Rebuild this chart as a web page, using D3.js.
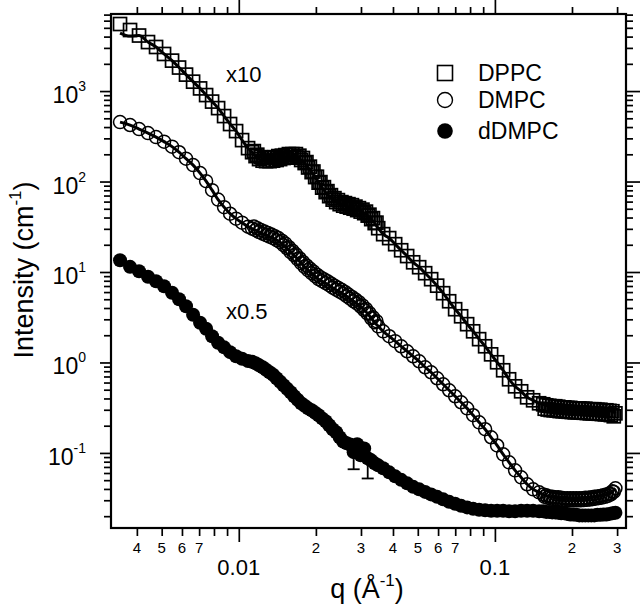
<!DOCTYPE html>
<html>
<head>
<meta charset="utf-8">
<script src="https://cdn.jsdelivr.net/npm/d3@7"></script>
<style>
  body { margin: 0; background: #fff; }
  svg { display: block; }
  text { font-family: Arial, "Liberation Sans", sans-serif; fill: #000; }
</style>
</head>
<body>
<div id="vis"></div>
<script>
// q values (1/A), shared by the three samples
var qValues = [
  0.003438, 0.003762, 0.004079, 0.004421, 0.004753, 0.005107, 0.005488, 0.005845, 0.006223, 0.006631,
  0.007061, 0.007454, 0.007866, 0.008303, 0.008762, 0.009247, 0.009760, 0.01030, 0.01087,
  0.01127, 0.01163, 0.01200, 0.01239, 0.01278, 0.01319, 0.01361, 0.01405, 0.01450, 0.01496,
  0.01544, 0.01594, 0.01645, 0.01697, 0.01752, 0.01808, 0.01865, 0.01925, 0.01987, 0.02050,
  0.02116, 0.02184, 0.02254, 0.02326, 0.02400, 0.02477, 0.02556, 0.02638, 0.02722, 0.02809,
  0.02899, 0.02992, 0.03088, 0.03187, 0.03289, 0.03394, 0.03502,
  0.03662, 0.03865, 0.04079, 0.04305, 0.04543, 0.04795, 0.05061, 0.05341, 0.05637, 0.05949,
  0.06279, 0.06627, 0.06994, 0.07381, 0.07790, 0.08222, 0.08677, 0.09158, 0.09665, 0.1020,
  0.1077, 0.1136, 0.1199, 0.1266, 0.1336, 0.1410, 0.1488,
  0.1544, 0.1586, 0.1630, 0.1675, 0.1720, 0.1767, 0.1816, 0.1866, 0.1917, 0.1969,
  0.2023, 0.2079, 0.2136, 0.2194, 0.2254, 0.2316, 0.2380, 0.2445, 0.2512, 0.2581,
  0.2652, 0.2724, 0.2799, 0.2876, 0.2955
];

// DPPC (x10), intensity in 1/cm
var dppcValues = [
  5510, 4730, 4110, 3480, 3070, 2570, 2170, 1820, 1520, 1270,
  1070, 903, 765, 648, 529, 432, 361, 287, 234,
  211, 191, 177, 170, 168, 168, 170, 173, 177, 182,
  184, 186, 186, 184, 173, 160, 143, 127, 112, 97.2,
  85.6, 76.3, 68.9, 63.1, 59.2, 56.2, 54.1, 52.8, 51.4, 50.1,
  48.3, 46.5, 44.7, 42.0, 38.4, 34.7, 30.5,
  26.2, 23.7, 20.3, 17.4, 15.0, 12.8, 11.3, 9.70, 8.33, 7.06,
  5.83, 4.75, 3.88, 3.24, 2.65, 2.21, 1.81, 1.51, 1.23, 1.005,
  0.820, 0.652, 0.545, 0.480, 0.412, 0.382, 0.354,
  0.345, 0.336, 0.332, 0.328, 0.328, 0.324, 0.319, 0.319, 0.315, 0.315,
  0.311, 0.311, 0.311, 0.308, 0.308, 0.304, 0.304, 0.304, 0.300, 0.300,
  0.296, 0.296, 0.292, 0.289, 0.274
];

// DMPC
var dmpcValues = [
  454, 421, 380, 343, 310, 276, 243, 211, 179, 152,
  124, 101, 80.3, 63.1, 52.1, 44.1, 38.9, 35.1, 31.7,
  30.1, 29.0, 27.6, 26.5, 25.5, 24.6, 23.7, 22.5, 21.4, 19.8,
  18.3, 16.6, 15.3, 13.9, 12.5, 11.4, 10.5, 9.70, 8.98, 8.33,
  7.91, 7.52, 7.14, 6.71, 6.37, 6.06, 5.75, 5.40, 5.07, 4.75,
  4.46, 4.15, 3.80, 3.46, 3.08, 2.78, 2.51,
  2.21, 1.95, 1.72, 1.51, 1.33, 1.17, 1.03, 0.885, 0.779, 0.669,
  0.574, 0.493, 0.423, 0.363, 0.311, 0.261, 0.218, 0.183, 0.149, 0.121,
  0.0965, 0.0787, 0.0642, 0.0537, 0.0450, 0.0396, 0.0367,
  0.0348, 0.0340, 0.0331, 0.0327, 0.0323, 0.0323, 0.0319, 0.0315, 0.0315, 0.0315,
  0.0315, 0.0315, 0.0315, 0.0315, 0.0319, 0.0319, 0.0323, 0.0327, 0.0331, 0.0335,
  0.0340, 0.0348, 0.0357, 0.0376, 0.0406
];

// dDMPC (x0.5)
var ddmpcValues = [
  13.5, 11.4, 10.2, 8.87, 7.91, 6.97, 5.90, 5.00, 4.18, 3.37,
  2.75, 2.36, 1.95, 1.65, 1.47, 1.30, 1.17, 1.10, 1.04,
  1.02, 0.980, 0.931, 0.885, 0.830, 0.779, 0.731, 0.669, 0.612, 0.560,
  0.512, 0.468, 0.423, 0.387, 0.354, 0.332, 0.311, 0.296, 0.278, 0.261,
  0.241, 0.224, 0.202, 0.183, 0.169, 0.149, 0.134, 0.128, 0.124, 0.102,
  0.125, 0.0941, 0.112, 0.0872, 0.0828, 0.0767, 0.0729,
  0.0676, 0.0610, 0.0551, 0.0504, 0.0461, 0.0422, 0.0396, 0.0371, 0.0348, 0.0327,
  0.0307, 0.0288, 0.0274, 0.0260, 0.0250, 0.0241, 0.0235, 0.0232, 0.0229, 0.0229,
  0.0229, 0.0226, 0.0226, 0.0229, 0.0229, 0.0229, 0.0226,
  0.0226, 0.0223, 0.0223, 0.0220, 0.0220, 0.0218, 0.0215, 0.0215, 0.0212, 0.0209,
  0.0209, 0.0207, 0.0204, 0.0204, 0.0204, 0.0204, 0.0204, 0.0204, 0.0207, 0.0207,
  0.0209, 0.0209, 0.0212, 0.0215, 0.0218
];

// second detector setting, overlapping the mid-q and high-q ranges
var qOverlap = [
  0.01145, 0.01181, 0.01219, 0.01258, 0.01299, 0.01340, 0.01383, 0.01427, 0.01473, 0.01520,
  0.01569, 0.01619, 0.01671, 0.01724, 0.01780, 0.01837, 0.01895, 0.01956, 0.02019, 0.02083,
  0.02150, 0.02219, 0.02290, 0.02363, 0.02438, 0.02516, 0.02597, 0.02680, 0.02766, 0.02854,
  0.02945, 0.03040, 0.03137, 0.03237, 0.03341, 0.03448,
  0.1565, 0.1608, 0.1652, 0.1697, 0.1744, 0.1791, 0.1840, 0.1891, 0.1943, 0.1996,
  0.2051, 0.2107, 0.2165, 0.2224, 0.2285, 0.2348, 0.2412, 0.2478, 0.2546, 0.2616,
  0.2688, 0.2761, 0.2837, 0.2912
];
var dppcOverlap = [
  217, 198, 186, 182, 182, 184, 186, 191, 193, 196,
  201, 201, 201, 193, 182, 164, 146, 129, 113, 98.5,
  86.7, 78.3, 70.7, 65.5, 62.3, 59.2, 57.7, 56.2, 54.8, 52.8,
  50.8, 48.9, 46.5, 43.0, 39.4, 35.1,
  0.308, 0.302, 0.298, 0.296, 0.294, 0.290, 0.289, 0.287, 0.285, 0.283,
  0.281, 0.281, 0.280, 0.278, 0.276, 0.274, 0.274, 0.272, 0.271, 0.269,
  0.267, 0.266, 0.262, 0.254
];
var dmpcOverlap = [
  31.9, 30.5, 29.2, 28.1, 27.0, 26.0, 24.9, 23.7, 22.2, 20.6,
  18.8, 17.2, 15.7, 14.2, 12.9, 11.8, 10.9, 10.1, 9.34, 8.76,
  8.33, 7.91, 7.47, 7.06, 6.71, 6.37, 6.02, 5.64, 5.30, 4.97,
  4.64, 4.27, 3.90, 3.52, 3.16, 2.86,
  0.0327, 0.0319, 0.0313, 0.0309, 0.0307, 0.0305, 0.0301, 0.0299, 0.0299, 0.0299,
  0.0299, 0.0299, 0.0299, 0.0301, 0.0303, 0.0305, 0.0309, 0.0313, 0.0317, 0.0321,
  0.0327, 0.0335, 0.0348, 0.0371
];

// the DPPC fit sits below the first two points at low q
var dppcFitLow = [[0.003438, 4380], [0.003762, 4060]];

// error bars on dDMPC near q = 0.03 (the upper halves are buried in the markers)
var errorBars = [
  { q: 0.02809, I: 0.102, err: 0.036 },
  { q: 0.03187, I: 0.0872, err: 0.035 }
];

var yTickExponents = [-1, 0, 1, 2, 3];
var xMajorLabels = [0.01, 0.1];
var xMinorLabels = [0.004, 0.005, 0.006, 0.007, 0.02, 0.03, 0.04, 0.05, 0.06, 0.07, 0.2, 0.3];

var legendItems = ["DPPC", "DMPC", "dDMPC"];

var width = 640;
var height = 604;
var margin = { top: 14, left: 111, bottom: 76, right: 14 };

var svg = d3.select("#vis").append("svg")
    .attr("width", width)
    .attr("height", height);

var x = d3.scaleLog()
    .domain([0.00317, 0.325])
    .range([margin.left, width - margin.right]);

var y = d3.scaleLog()
    .domain([0.0148, 7110])
    .range([height - margin.bottom, margin.top]);

function isDecade(v) {
    var l = Math.log10(v);
    return Math.abs(l - Math.round(l)) < 1e-6;
}

var xTicks = x.ticks().filter(function(v) { return v >= 0.00317 && v <= 0.325; });
var yTicks = y.ticks().filter(function(v) { return v >= 0.0148 && v <= 7110; });

// axes: ticks everywhere point outward
function tickAxis(axisFn, scale, values, size, translate) {
    svg.append("g")
        .attr("transform", translate)
        .call(axisFn(scale).tickValues(values).tickSize(size).tickFormat(""))
        .call(function(g) { g.select(".domain").remove(); })
        .selectAll("line").attr("stroke", "#000").attr("stroke-width", 1.7);
}

var xMinor = xTicks.filter(function(v) { return !isDecade(v); });
var xMajor = xTicks.filter(isDecade);
var yMinor = yTicks.filter(function(v) { return !isDecade(v); });
var yMajor = yTicks.filter(isDecade);

var bottomY = height - margin.bottom;
var rightX = width - margin.right;

tickAxis(d3.axisBottom, x, xMinor, 8, "translate(0," + bottomY + ")");
tickAxis(d3.axisBottom, x, xMajor, 14, "translate(0," + bottomY + ")");
tickAxis(d3.axisTop, x, xMinor, 7, "translate(0," + margin.top + ")");
tickAxis(d3.axisTop, x, xMajor, 14, "translate(0," + margin.top + ")");
tickAxis(d3.axisLeft, y, yMinor, 7, "translate(" + margin.left + ",0)");
tickAxis(d3.axisLeft, y, yMajor, 11, "translate(" + margin.left + ",0)");
tickAxis(d3.axisRight, y, yMinor, 7, "translate(" + rightX + ",0)");
tickAxis(d3.axisRight, y, yMajor, 14, "translate(" + rightX + ",0)");

// frame
svg.append("rect")
    .attr("x", margin.left)
    .attr("y", margin.top)
    .attr("width", rightX - margin.left)
    .attr("height", bottomY - margin.top)
    .attr("fill", "none")
    .attr("stroke", "#000")
    .attr("stroke-width", 2.2);

// x tick labels
svg.selectAll(".xminor-label")
    .data(xMinorLabels)
    .enter().append("text")
    .attr("class", "xminor-label")
    .attr("x", function(d) { return x(d); })
    .attr("y", bottomY + 25)
    .attr("text-anchor", "middle")
    .style("font-size", "15px")
    .text(function(d) { return String(d).replace(/0\.0*/, ""); });

svg.selectAll(".xmajor-label")
    .data(xMajorLabels)
    .enter().append("text")
    .attr("class", "xmajor-label")
    .attr("x", function(d) { return x(d); })
    .attr("y", bottomY + 47)
    .attr("text-anchor", "middle")
    .style("font-size", "22px")
    .text(function(d) { return String(d); });

// y tick labels 10^n
svg.selectAll(".ylabel")
    .data(yTickExponents)
    .enter().append("text")
    .attr("class", "ylabel")
    .attr("x", 86)
    .attr("y", function(d) { return y(Math.pow(10, d)) + 12; })
    .attr("text-anchor", "end")
    .style("font-size", "23px")
    .each(function(d) {
        var t = d3.select(this);
        t.append("tspan").text("10");
        t.append("tspan").attr("dy", -12).style("font-size", "14px").text(d);
    });

// axis titles
var xTitle = svg.append("text")
    .attr("x", 367)
    .attr("y", 598)
    .attr("text-anchor", "middle")
    .style("font-size", "27px");
xTitle.append("tspan").text("q (\u00C5");
xTitle.append("tspan").attr("dy", -12).style("font-size", "17px").text("-1");
xTitle.append("tspan").attr("dy", 12).text(")");

var yTitle = svg.append("text")
    .attr("transform", "translate(33,270) rotate(-90)")
    .attr("text-anchor", "middle")
    .style("font-size", "27px");
yTitle.append("tspan").text("Intensity (cm");
yTitle.append("tspan").attr("dy", -12).style("font-size", "17px").text("-1");
yTitle.append("tspan").attr("dy", 12).text(")");

// data
function rows(qs, values) {
    return qs.map(function(q, i) { return [q, values[i]]; });
}

var dppcPts = rows(qValues, dppcValues).concat(rows(qOverlap, dppcOverlap));
var dmpcPts = rows(qValues, dmpcValues).concat(rows(qOverlap, dmpcOverlap));

var plot = svg.append("g");

var line = d3.line()
    .x(function(d) { return x(d[0]); })
    .y(function(d) { return y(d[1]); })
    .curve(d3.curveMonotoneX);

// hollow squares: DPPC
plot.selectAll(".sq")
    .data(dppcPts)
    .enter().append("rect")
    .attr("class", "sq")
    .attr("x", function(d) { return x(d[0]) - 6.5; })
    .attr("y", function(d) { return y(d[1]) - 6.5; })
    .attr("width", 13)
    .attr("height", 13)
    .attr("fill", "none")
    .attr("stroke", "#000")
    .attr("stroke-width", 1.7);

// hollow circles: DMPC
plot.selectAll(".oc")
    .data(dmpcPts)
    .enter().append("circle")
    .attr("class", "oc")
    .attr("cx", function(d) { return x(d[0]); })
    .attr("cy", function(d) { return y(d[1]); })
    .attr("r", 6.5)
    .attr("fill", "none")
    .attr("stroke", "#000")
    .attr("stroke-width", 1.5);

// fit lines
plot.append("path")
    .datum(dppcFitLow.concat(rows(qValues, dppcValues).slice(2)))
    .attr("d", line)
    .attr("fill", "none")
    .attr("stroke", "#000")
    .attr("stroke-width", 3);

plot.append("path")
    .datum(rows(qValues, dmpcValues))
    .attr("d", line)
    .attr("fill", "none")
    .attr("stroke", "#000")
    .attr("stroke-width", 3);

// filled circles: dDMPC
plot.selectAll(".fc")
    .data(rows(qValues, ddmpcValues))
    .enter().append("circle")
    .attr("class", "fc")
    .attr("cx", function(d) { return x(d[0]); })
    .attr("cy", function(d) { return y(d[1]); })
    .attr("r", 7)
    .attr("fill", "#000");

var eb = plot.selectAll(".eb")
    .data(errorBars)
    .enter().append("g")
    .attr("class", "eb")
    .attr("stroke", "#000")
    .attr("stroke-width", 1.8);
eb.append("line")
    .attr("x1", function(d) { return x(d.q); })
    .attr("x2", function(d) { return x(d.q); })
    .attr("y1", function(d) { return y(d.I); })
    .attr("y2", function(d) { return y(d.I - d.err); });
eb.append("line")
    .attr("x1", function(d) { return x(d.q) - 6; })
    .attr("x2", function(d) { return x(d.q) + 6; })
    .attr("y1", function(d) { return y(d.I - d.err); })
    .attr("y2", function(d) { return y(d.I - d.err); });

// annotations
svg.append("text").attr("x", 226).attr("y", 82).style("font-size", "22px").text("x10");
svg.append("text").attr("x", 226).attr("y", 319).style("font-size", "22px").text("x0.5");

// legend
var legend = svg.append("g").attr("transform", "translate(445,0)");
var legendY = [73, 100, 131];
legend.append("rect")
    .attr("x", -7.5).attr("y", legendY[0] - 7.5)
    .attr("width", 15).attr("height", 15)
    .attr("fill", "none").attr("stroke", "#000").attr("stroke-width", 1.6);
legend.append("circle")
    .attr("cx", 0).attr("cy", legendY[1]).attr("r", 7.5)
    .attr("fill", "none").attr("stroke", "#000").attr("stroke-width", 1.4);
legend.append("circle")
    .attr("cx", 0).attr("cy", legendY[2]).attr("r", 7.8)
    .attr("fill", "#000");
legend.selectAll(".lt")
    .data(legendItems)
    .enter().append("text")
    .attr("class", "lt")
    .attr("x", 33)
    .attr("y", function(d, i) { return legendY[i] + 8; })
    .style("font-size", "23px")
    .text(function(d) { return d; });
</script>
</body>
</html>
